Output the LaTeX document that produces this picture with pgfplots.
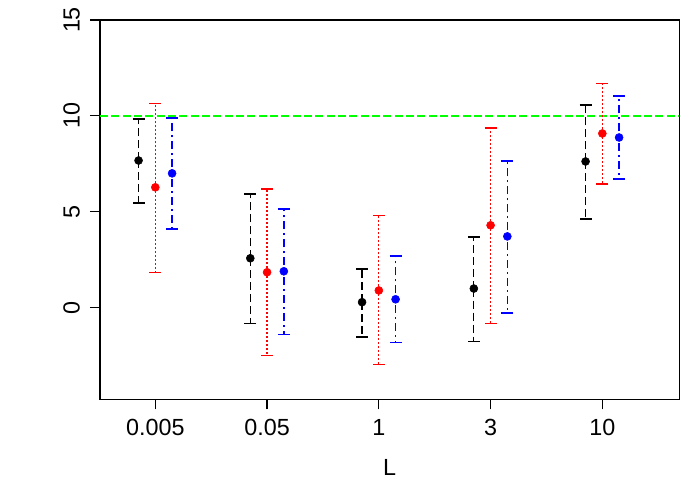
\documentclass[border=0pt]{standalone}
\usepackage{fontspec}
\setmainfont{Liberation Sans}
\usepackage{pgfplots}
\pgfplotsset{compat=1.18}
\definecolor{rgreen}{RGB}{0,255,0}
\definecolor{rred}{RGB}{255,0,0}
\definecolor{rblue}{RGB}{0,0,255}
\begin{document}
\begin{tikzpicture}
\useasboundingbox (0,0) rectangle (525pt,375pt);
\begin{axis}[
  at={(75pt,75.5pt)}, anchor=south west,
  scale only axis, width=434.5pt, height=284.5pt,
  xmin=0.505, xmax=5.689, ymin=-4.79, ymax=15,
  xtick={1,2,3,4,5}, xticklabels={0.005,0.05,1,3,10},
  ytick={0,5,10,15},
  tick align=outside, major tick length=7.5pt,
  tick style={black, line width=0.9pt},
  xtick pos=bottom, ytick pos=left,
  axis line style={line width=0.9pt},
  /pgf/number format/assume math mode=true,
  ticklabel style={font=\fontsize{17.5}{20}\selectfont, inner sep=0pt},
  xticklabel style={anchor=north, yshift=-7.5pt},
  yticklabel style={xshift=-7.5pt, rotate=90, anchor=south},
  xlabel={L},
  xlabel style={at={(axis description cs:0.5,0)}, anchor=north, yshift=-44.8pt, inner sep=0pt, font=\fontsize{17.5}{20}\selectfont},
  clip=false,
]
\addplot[draw=rgreen, line width=1.1pt, dash pattern=on 6pt off 2.5pt] coordinates {(0.505,10) (5.689,10)};
% black series
\addplot[only marks, mark=*, mark size=3pt, black,
  error bars/.cd, y dir=both, y explicit,
  error bar style={black, line width=1pt, dash pattern=on 6pt off 3pt},
  error mark options={black, rotate=90, mark size=4.5pt, line width=1pt, solid}]
  coordinates {
  (0.85,7.67) += (0,2.16) -= (0,2.22)
  (1.85,2.57) += (0,3.35) -= (0,3.40)
  (2.85,0.28) += (0,1.73) -= (0,1.81)
  (3.85,0.99) += (0,2.69) -= (0,2.78)
  (4.85,7.62) += (0,2.94) -= (0,3.00)
  };
% red series
\addplot[only marks, mark=*, mark size=3pt, rred,
  error bars/.cd, y dir=both, y explicit,
  error bar style={rred, line width=1pt, dash pattern=on 1.5pt off 1.5pt},
  error mark options={rred, rotate=90, mark size=4.5pt, line width=1pt, solid}]
  coordinates {
  (1,6.27) += (0,4.39) -= (0,4.46)
  (2,1.84) += (0,4.34) -= (0,4.36)
  (3,0.89) += (0,3.90) -= (0,3.88)
  (4,4.29) += (0,5.07) -= (0,5.14)
  (5,9.08) += (0,2.59) -= (0,2.64)
  };
% blue series
\addplot[only marks, mark=*, mark size=3pt, rblue,
  error bars/.cd, y dir=both, y explicit,
  error bar style={rblue, line width=1pt, dash pattern=on 1.5pt off 3pt on 6pt off 3pt},
  error mark options={rblue, rotate=90, mark size=4.5pt, line width=1pt, solid}]
  coordinates {
  (1.15,7.00) += (0,2.88) -= (0,2.90)
  (2.15,1.89) += (0,3.25) -= (0,3.31)
  (3.15,0.43) += (0,2.26) -= (0,2.27)
  (4.15,3.71) += (0,3.93) -= (0,3.99)
  (5.15,8.87) += (0,2.16) -= (0,2.17)
  };
\end{axis}
\end{tikzpicture}
\end{document}
